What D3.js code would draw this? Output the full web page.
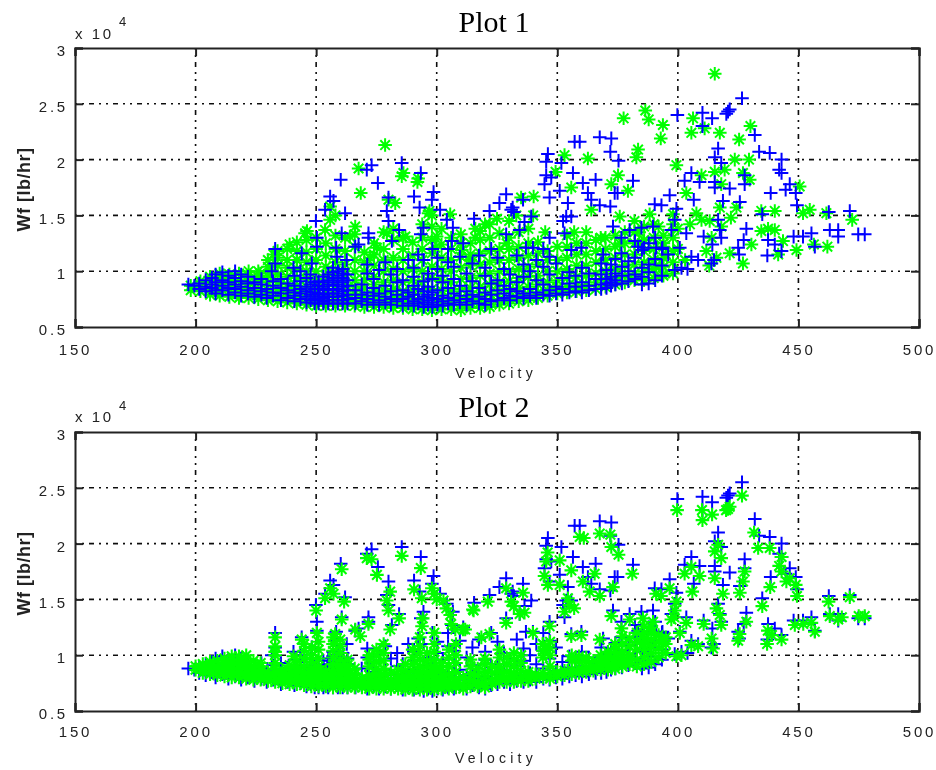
<!DOCTYPE html>
<html><head><meta charset="utf-8">
<script src="https://cdn.jsdelivr.net/npm/d3@7"></script>
<style>html,body{margin:0;padding:0;background:#fff}svg{display:block}</style>
</head><body><svg id="c" width="936" height="770"></svg>
<script>
const xTicks=[150,200,250,300,350,400,450,500];
const yTicks=[0.5,1,1.5,2,2.5,3];
const titles=["Plot 1","Plot 2"];
const xLabel="Velocity", yLabel="Wf [lb/hr]";

// Reference (blue +), isolated points: [velocity, Wf / 1e4]
const bluePeaks=[[197,.88],[233,1.2],[233,1.07],[231.6,1],[244,1.16],[240.6,1.03],[248.2,1.07],[250.3,1.22],[250.3,1.3],[249.9,1.45],[253.7,1.55],[255.8,1.67],[257.2,1.63],[260.2,1.82],[262,1.52],[260.6,1.34],[258.3,1.21],[258.6,1.13],[262.7,1.1],[266.2,1.22],[267.6,1.24],[271.7,1.34],[271.7,1.3],[271,1.91],[273,1.95],[275.6,1.79],[280,1.66],[279.3,1.54],[280,1.45],[281.4,1.27],[284.4,1.37],[285.5,1.97],[293.4,1.88],[290.6,1.67],[292.9,1.57],[294.5,1.39],[293.4,1.33],[298.7,1.71],[298,1.64],[301.4,1.55],[304.2,1.46],[306.7,1.39],[306.3,1.27],[311,1.25],[315.5,1.47],[321.9,1.54],[326,1.61],[328.8,1.69],[330.9,1.55],[331.5,1.57],[332,1.53],[335.8,1.64],[339.2,1.49],[336.4,1.44],[334.4,1.37],[328.8,1.33],[346.1,2.05],[345.4,1.98],[351.7,1.97],[345.4,1.86],[347.5,1.84],[344.7,1.78],[346.8,1.66],[351,1.72],[356.5,1.88],[360.6,1.79],[365.9,1.82],[354.4,1.61],[362.7,1.7],[364.1,1.64],[367.6,1.59],[372,1.58],[373.8,1.7],[375,1.7],[381.4,1.81],[359.3,2.16],[357.2,2.16],[367.6,2.2],[372.4,2.19],[372,2.07],[375.4,1.99],[353.7,1.49],[355.8,1.49],[352.4,1.45],[346.8,1.3],[353,1.34],[373.1,1.4],[376.6,1.3],[380,1.37],[384.9,1.39],[389.7,1.4],[339.9,1.21],[337,1.21],[360,1.21],[355.8,1.19],[369,1.15],[376.6,1.16],[383.5,1.22],[426.6,2.55],[420.8,2.43],[421.5,2.45],[420.1,2.41],[399.8,2.4],[410.2,2.42],[410.2,2.3],[414.2,2.37],[431.9,2.22],[416.7,2.1],[415.3,2.02],[418,1.97],[433.7,2.07],[438.1,2.06],[443,2],[442,1.91],[443,1.88],[446.4,1.78],[444.7,1.73],[448.9,1.7],[449.4,1.59],[427.7,1.86],[427.7,1.78],[421.5,1.74],[425.7,1.62],[418.7,1.63],[415.3,1.8],[415.3,1.75],[405.6,1.88],[402.8,1.81],[409,1.8],[406.6,1.64],[396.6,1.68],[390.4,1.6],[393.2,1.59],[399.4,1.56],[398.7,1.46],[438.5,1.7],[435,1.51],[416.7,1.46],[417.4,1.37],[418,1.3],[428.4,1.38],[427.3,1.28],[425,1.21],[425.4,1.15],[437.4,1.28],[440.2,1.24],[437.1,1.14],[443,1.18],[448,1.31],[451.9,1.31],[455.4,1.34],[456.8,1.22],[462.6,1.53],[471.3,1.54],[463,1.37],[466.5,1.37],[466.5,1.31],[474.8,1.33],[477.5,1.33],[414.3,1.24],[413.9,1.07],[408.4,1.1],[405.6,1.13],[403.5,1.34],[397.3,1.37],[410.7,1.31],[400.8,1.21],[398.7,1.01],[401.5,1.03],[393.6,1.21],[391,1.21],[386,1.21],[404,1.02],[396,1.15],[415,1.1]];
// Reference (blue +), dense band: [velocity, [Wf / 1e4 ...]]
const blueBand=[[199.5,[.87]],[201.5,[.84,.89]],[204.2,[.82,.86,.92]],[206.8,[.85,.88,.94]],[208.3,[.8,.83,.9,.97]],[211.1,[.83,.87,.92,.99]],[213.6,[.79,.85,.9,.96]],[216.4,[.81,.84,.88,.94,1]],[218.9,[.78,.86,.91,.97]],[221.7,[.8,.83,.89,.95]],[224.4,[.77,.85,.9]],[227.3,[.79,.82,.88,.93]],[229.5,[.76,.84]],[232.1,[.78,.81,.87,.91]],[235.4,[.74,.8,.85,.93]],[238.2,[.76,.83,.89]],[241,[.73,.78,.81,.87,.96]],[243.5,[.75,.8,.84,.91,1]],[246,[.72,.77,.82,.86,.94]],[247.7,[.74,.79,.88,.97]],[249.4,[.71,.75,.81,.84,.9]],[251,[.71,.74,.77,.8,.84,.87,.91]],[253,[.71,.73,.76,.79,.83,.86,.9,.95]],[255,[.71,.74,.77,.8,.84,.88,.92,.97]],[257,[.71,.74,.77,.8,.83,.87,.9,.94,.99,1.03]],[259,[.71,.74,.77,.8,.84,.88,.92,.96,1]],[261,[.71,.74,.78,.82,.86,.9,.94,.98,1.02]],[263,[.71,.75,.79,.83,.87,.92,.97]],[266.3,[.71,.76,.83]],[268.9,[.73,.79,.88]],[271.2,[.7,.75,.81,.98,1.06]],[273.8,[.72,.78,.85,.93]],[276.1,[.7,.74,.8,1.01]],[278.7,[.72,.77,.87,1.08]],[281,[.7,.75,.82,.97]],[283.6,[.73,.79,.9,1.02]],[285.9,[.69,.75,.83,.92]],[288.2,[.71,.77,.81,1.1]],[290.5,[.69,.73,.79,.87,.95,1.03]],[292.3,[.71,.75,.84,1.15]],[294.6,[.68,.72,.77,.82,.91,1.1]],[296.4,[.7,.74,.79,.86,.98]],[298.2,[.68,.72,.76,.81,.93,1.2]],[300.3,[.7,.75,.83,1.02,1.12]],[302.5,[.69,.73,.78,.9,.96]],[304.7,[.71,.76,.85,1.08,1.2]],[307.1,[.7,.74,.8,.93,1.04]],[309.6,[.72,.78,.87,1.13]],[312.4,[.7,.75,.82,.98]],[314.8,[.73,.79,.91,1.07]],[317.5,[.71,.77,.85,1.14]],[320.1,[.7,.75,.81,.96,1.03]],[322.6,[.73,.79,.89,1.2]],[325.2,[.74,.83,.92,1.12]],[327.9,[.76,.8,.87,1.02]],[330.4,[.74,.78,.84,.97]],[333.2,[.77,.82,.9,1.14]],[336,[.76,.8,.95,1.06]],[338.7,[.78,.84,1]],[341.3,[.76,.81,.92,1.1]],[344.2,[.79,.88,1.04,1.2]],[346.8,[.78,.83,.97,1.13]],[349.5,[.8,.86,1.07]],[352.1,[.79,.84,.94]],[355,[.81,.89,.99]],[357.6,[.82,.86,.96]],[360.2,[.81,.9,1.03]],[363.1,[.83,.87,.98]],[365.9,[.84,.93]],[368.2,[.84,.88,.97,1.07]],[370.4,[.85,.89,.93,1.01]],[372.3,[.87,.9,.95,1.06]],[374.1,[.88,.92,.98,1.11]],[376.8,[.89,.96,1.04]],[379.5,[.91,1,1.09]],[382.2,[.93,.97,1.12,1.27]],[385.1,[.88,.95,1.03,1.19]],[387.9,[.89,.99,1.06,1.25]],[390.6,[.92,1.11,1.3]],[393.4,[.96,1.05,1.2]]];

// Plot 1 prediction (green *), isolated points
const green1Peaks=[[278.6,2.13],[267.6,1.92],[268.5,1.7],[286.2,1.88],[285.5,1.85],[292,1.8],[292.3,1.83],[280,1.64],[282.8,1.61],[255.8,1.58],[296.6,1.52],[298,1.5],[297,1.54],[305.6,1.51],[255.8,1.46],[253.7,1.37],[245.4,1.34],[246.2,1.36],[266.2,1.4],[264,1.31],[239,1.24],[232.3,1.15],[230.9,1.01],[242,1.1],[226.8,.98],[279.3,1.34],[287,1.31],[275.2,1.21],[272.4,1.12],[300,1.31],[299.4,1.21],[316,1.3],[310.4,1.19],[313.9,1.1],[415.3,2.77],[377.5,2.37],[386.5,2.44],[387.9,2.36],[393.8,2.31],[392.9,2.19],[406.3,2.37],[405.6,2.24],[411.1,2.28],[417.4,2.24],[430.1,2.3],[425.4,2.18],[353,2.04],[362.7,2.01],[383.5,2.09],[382.8,2.02],[399.4,1.95],[349.3,1.89],[375.2,1.86],[372.4,1.78],[355.8,1.75],[340.2,1.67],[335,1.66],[379.3,1.72],[409.8,1.86],[415.3,1.89],[423.6,2],[429.5,2],[427,1.88],[429.8,1.82],[419.4,1.91],[418,1.78],[403.5,1.7],[450.5,1.76],[434.6,1.54],[440.2,1.54],[451.9,1.52],[454.7,1.55],[461.6,1.52],[472.3,1.46],[417.4,1.57],[424.3,1.57],[407.7,1.52],[409.8,1.46],[398,1.51],[388.3,1.51],[375.9,1.49],[364.1,1.55],[434.6,1.36],[437.4,1.38],[440.2,1.37],[430.5,1.24],[421.5,1.16],[427,1.07],[441.6,1.15],[443.6,1.27],[449.2,1.19],[456.4,1.24],[462,1.22],[413.2,1.45],[411.8,1.18],[393.8,.97],[391,1.04],[340,1.5],[333,1.5],[325,1.47],[320,1.42],[310,1.33],[316,1.38],[329,1.25],[345,1.35],[357,1.35],[362,1.35],[368,1.3],[376,1.25],[384,1.35],[392,1.4],[400,1.38],[405,1.42],[418,1.4],[422,1.48],[414,1.3],[394,1.25],[400,1.2],[385,1.25],[395,1.15],[403,1.1],[413,1.05],[416,1.12]];
// Plot 1 prediction (green *), dense band
const green1Band=[[198,[.83,.87]],[202,[.82,.86,.91]],[206,[.79,.84,.9,.95]],[210,[.78,.83,.88,.93,.98]],[214,[.77,.82,.87,.92,.97]],[218,[.76,.81,.86,.92,.98]],[222,[.76,.8,.85,.9,.96,1]],[226,[.75,.79,.84,.9,.95,1]],[230,[.74,.78,.83,.9,.96,1.04,1.1]],[234,[.73,.78,.84,.9,.97,1.05,1.12,1.18]],[238,[.72,.77,.82,.88,.95,1.03,1.1,1.2]],[242,[.71,.76,.81,.87,.94,1.02,1.1,1.18,1.26]],[246,[.7,.75,.8,.86,.93,1,1.08,1.17,1.28]],[250,[.69,.74,.8,.86,.93,1,1.1,1.2,1.3]],[254,[.69,.74,.8,.88,.96,1.04,1.14,1.25]],[258,[.69,.73,.78,.84,.9,.98,1.08,1.2,1.32,1.5]],[262,[.69,.74,.8,.88,.97,1.06,1.18,1.3]],[266,[.69,.74,.8,.86,.92,1,1.1,1.22,1.33]],[270,[.68,.73,.78,.85,.92,1,1.08,1.17]],[274,[.68,.72,.77,.82,.88,.95,1.05,1.15,1.25]],[278,[.68,.72,.77,.83,.9,1,1.1,1.2,1.35]],[282,[.67,.72,.77,.84,.92,1.02,1.12,1.28,1.38]],[286,[.67,.71,.76,.82,.9,1,1.1,1.2,1.3]],[290,[.66,.7,.76,.83,.92,1.02,1.14,1.26]],[294,[.66,.7,.75,.82,.9,1,1.1,1.2,1.3,1.42]],[298,[.65,.7,.76,.84,.94,1.04,1.16,1.28,1.4]],[302,[.66,.7,.76,.83,.92,1.02,1.12,1.24,1.38]],[306,[.66,.7,.75,.82,.9,1,1.1,1.2,1.3]],[310,[.65,.7,.76,.84,.93,1.03,1.13,1.25]],[314,[.67,.72,.78,.85,.94,1.05,1.15,1.25]],[318,[.67,.72,.78,.86,.96,1.06,1.16,1.28,1.36]],[322,[.68,.73,.8,.88,.98,1.08,1.18,1.3,1.42]],[326,[.7,.75,.82,.9,1,1.1,1.2,1.34]],[330,[.71,.76,.83,.91,1,1.1,1.2,1.3,1.45]],[334,[.73,.78,.85,.94,1.02,1.12,1.22,1.35]],[338,[.74,.79,.86,.95,1.04,1.14,1.25,1.38]],[342,[.76,.81,.88,.96,1.06,1.16,1.26]],[346,[.78,.83,.9,1,1.1,1.18]],[350,[.8,.85,.92,1,1.1,1.22]],[354,[.81,.86,.94,1.02,1.12,1.22,1.32]],[358,[.82,.87,.95,1.05,1.15,1.25]],[362,[.83,.88,.96,1.05,1.15,1.25]],[366,[.84,.9,.98,1.08,1.18,1.28]],[370,[.86,.92,1,1.1,1.2,1.3]],[374,[.88,.94,1.02,1.12,1.22,1.32]],[378,[.9,.96,1.05,1.15,1.25,1.35]],[382,[.92,.98,1.06,1.15,1.25,1.35,1.45]],[386,[.92,1,1.08,1.18,1.28,1.4]],[390,[.94,1.02,1.1,1.2,1.3,1.42]],[394,[.96,1.04,1.12,1.22,1.32]],[398,[.98,1.08,1.18,1.3,1.42]]];

// Plot 2 prediction (green *), isolated points
const green2Peaks=[[426.6,2.43],[420.8,2.31],[420,2.3],[421.5,2.33],[399.7,2.3],[410,2.3],[410.2,2.21],[414.2,2.26],[431.6,2.1],[433.3,1.96],[438.1,1.96],[416.7,1.99],[415.3,1.93],[418,1.87],[443,1.88],[442,1.8],[443,1.75],[446.4,1.69],[445,1.66],[448.9,1.63],[449.4,1.53],[427.7,1.75],[427,1.66],[425.7,1.56],[418.7,1.55],[415.3,1.69],[405.6,1.79],[402.8,1.73],[409,1.71],[406,1.57],[396.6,1.6],[391,1.55],[393,1.53],[399.4,1.48],[398.7,1.4],[398.5,1.34],[438.3,1.61],[435,1.44],[417.4,1.36],[418,1.27],[416,1.42],[428.4,1.3],[425.6,1.19],[425,1.13],[437.3,1.22],[439,1.18],[437,1.1],[443,1.14],[448.5,1.27],[452,1.28],[455.4,1.29],[456.8,1.21],[462.5,1.48],[471.3,1.52],[463,1.35],[466.5,1.32],[468,1.34],[475,1.35],[477.5,1.35],[414.6,1.06],[414,1.15],[408.4,1.08],[405.6,1.09],[403.5,1.29],[397.3,1.32],[410.7,1.28],[400.8,1.2],[399.4,.99],[401.5,1],[393.8,1.12],[386.2,1.15],[346,1.92],[345.4,1.84],[351,1.85],[344.7,1.71],[346.1,1.63],[351,1.63],[355.8,1.76],[359.3,2.06],[361,2.05],[367.6,2.09],[372,2.08],[372.4,1.97],[375.4,1.9],[360.6,1.66],[365.5,1.73],[363.4,1.57],[367.6,1.53],[373.1,1.61],[381.1,1.73],[354.4,1.51],[355,1.45],[357,1.42],[353,1.39],[346.8,1.26],[372.4,1.35],[376.6,1.24],[380,1.32],[385.5,1.33],[389.7,1.3],[339.9,1.2],[360,1.18],[355.8,1.17],[367.6,1.14],[344,1.1],[345,1.05],[315,1.41],[321.2,1.48],[328.8,1.6],[330.9,1.48],[332,1.44],[335.8,1.56],[336.4,1.38],[334.4,1.37],[328.8,1.29],[321.9,1.19],[318.5,1.16],[310.9,1.23],[233,1.16],[233,1.03],[244,1.14],[240.6,.99],[248.2,1.07],[250.3,1.2],[250,1.4],[253.7,1.51],[255.8,1.6],[257.2,1.55],[260.6,1.77],[261.6,1.48],[260.6,1.32],[257.9,1.19],[266.2,1.23],[268.3,1.17],[271.7,1.28],[271,1.87],[273,1.86],[275.2,1.72],[280.7,1.57],[279.3,1.49],[280,1.4],[280.7,1.23],[284.4,1.33],[285.5,1.89],[293.4,1.78],[290.6,1.59],[293.8,1.51],[294.2,1.33],[293.9,1.26],[298,1.6],[299,1.55],[300,1.5],[302.8,1.49],[304,1.42],[305.6,1.36],[307.7,1.23],[306,1.28],[311.8,1.23],[315.3,1.4]];
// Plot 2 prediction (green *), dense band
const green2Band=[[200,[.87,.9]],[203,[.84,.88,.92]],[206,[.83,.87,.91,.94]],[209,[.82,.86,.9,.95]],[212,[.81,.85,.89,.93,.97]],[215,[.8,.84,.88,.92,.96,.99]],[218,[.8,.84,.88,.92,.96,.99]],[221,[.79,.83,.87,.91,.95,1]],[224,[.78,.82,.86,.9,.95]],[227,[.78,.82,.86,.9,.93]],[230,[.77,.81,.85]],[233,[.76,.8,.84,.88,.93,1,1.08]],[236,[.75,.79,.83,.87]],[239,[.74,.78,.82,.86,.91]],[242,[.74,.78,.82,.86,.9,.95]],[245,[.73,.77,.81,.85,.9,.97,1.04,1.1]],[248,[.72,.76,.8,.84,.88,.94,1]],[251,[.72,.75,.78,.82,.86,.9,.97,1.05,1.12]],[254,[.72,.75,.78,.82,.86]],[257,[.71,.75,.79,.83,.87,.92,.98,1.04,1.1,1.16]],[260,[.71,.75,.79,.83,.87,.91,.96,1.02,1.08,1.14]],[263,[.71,.75,.79,.83,.87,.91,.96]],[266,[.71,.75,.79,.83,.88]],[269,[.71,.75,.79]],[272,[.7,.74,.78,.82,.9,.96,1]],[275,[.7,.74,.78,.83,.88,.94,1,1.05]],[278,[.7,.74,.78,.83,.88,.95,1.02,1.1]],[281,[.7,.74,.78,.84]],[284,[.7,.74,.78,.82,.87]],[287,[.69,.73,.77,.81,.86,.92]],[290,[.69,.73,.77,.81,.86,.92,.98,1.05]],[293,[.69,.73,.77,.81,.85,.9,.96,1.02,1.08,1.16]],[296,[.69,.73,.77,.81,.85,.9,.95,1.02]],[299,[.69,.73,.77,.81,.85,.9,.96,1.03,1.1,1.2]],[302,[.7,.74,.78,.82,.87,.93]],[305,[.7,.74,.78,.83,.9,.98,1.05]],[308,[.71,.75,.79,.85,.93,1,1.1]],[311,[.7,.74,.8]],[314,[.72,.77,.83,.9,.96]],[317,[.72,.76,.82,.88]],[320,[.71,.75,.8,.85,.92,.97]],[323,[.74,.78,.84,.9]],[326,[.76,.8,.85,.9,.98,1.05]],[329,[.76,.8,.85,.92,.98]],[332,[.76,.8,.84,.9,.96,1.02]],[335,[.77,.81,.86,.93,1]],[338,[.77,.81,.85]],[341,[.79,.83]],[344,[.8,.84,.98,1.04,1.1]],[347,[.79,.84,.9,1,1.06,1.12]],[350,[.81,.85]],[353,[.82,.86]],[356,[.83,.87,.95,1]],[359,[.84,.88,.94,.99]],[362,[.85,.89,.94,.98]],[365,[.86,.9,.95]],[368,[.87,.91,.95,1]],[371,[.87,.91,.95,.99,1.03]],[374,[.88,.92,.96,1,1.05,1.1]],[377,[.9,.94,.98,1.03,1.1,1.17]],[380,[.92,.96,1,1.08,1.15]],[383,[.9,.96,1.05,1.12,1.2]],[386,[.92,.98,1.05,1.1,1.15,1.2,1.26]],[389,[.94,1.02,1.08,1.14,1.2,1.25]],[392,[.98,1.06,1.12,1.18]],[395,[1.02,1.1,1.16]]];

const expand=(peaks,band)=>band.flatMap(([v,ws])=>ws.map(w=>[v,w])).concat(peaks);
const blue=expand(bluePeaks,blueBand);
const green1=expand(green1Peaks,green1Band);
const green2=expand(green2Peaks,green2Band);

const svg=d3.select("#c");
const defs=svg.append("defs");
defs.append("filter").attr("id","soft").attr("x","-2%").attr("y","-2%").attr("width","104%").attr("height","104%")
  .append("feGaussianBlur").attr("stdDeviation",0.5);
const root=svg.append("g").attr("filter","url(#soft)");

const plusType={draw(c,s){const r=Math.sqrt(s);c.moveTo(-r,0);c.lineTo(r,0);c.moveTo(0,-r);c.lineTo(0,r);}};
const starType={draw(c,s){const r=Math.sqrt(s),k=r*Math.SQRT1_2;c.moveTo(-r,0);c.lineTo(r,0);c.moveTo(0,-r);c.lineTo(0,r);c.moveTo(-k,-k);c.lineTo(k,k);c.moveTo(-k,k);c.lineTo(k,-k);}};
const plusPath=d3.symbol().type(plusType).size(46)();
const starPath=d3.symbol().type(starType).size(46)();

const layouts=[{top:48,bottom:327,titleY:31.5,multY:38.5,expY:26,xTickY:354.5,xLabelY:378},
               {top:432,bottom:711,titleY:417,multY:422,expY:410,xTickY:736.5,xLabelY:763}];
const x=d3.scaleLinear().domain([150,500]).range([75,919]);

function marks(g,data,path,color,sw,xs,ys){
  g.append("g").selectAll("path").data(data).join("path")
    .attr("d",path).attr("transform",d=>`translate(${xs(d[0])},${ys(d[1])})`)
    .attr("fill","none").attr("stroke",color).attr("stroke-width",sw);
}

layouts.forEach((L,i)=>{
  const y=d3.scaleLinear().domain([0.5,3]).range([L.bottom,L.top]);
  const g=root.append("g");
  g.append("text").text(titles[i]).attr("x",494).attr("y",L.titleY).attr("text-anchor","middle")
    .attr("font-family","Liberation Serif").attr("font-size",30).attr("fill","#000");
  const dash="2 5 2 5 5 5";
  g.append("g").selectAll("line").data(xTicks.slice(1,-1)).join("line")
    .attr("x1",d=>x(d)).attr("x2",d=>x(d)).attr("y1",L.top).attr("y2",L.bottom)
    .attr("stroke","#111").attr("stroke-width",1.6).attr("stroke-dasharray",dash);
  g.append("g").selectAll("line").data(yTicks.slice(1,-1)).join("line")
    .attr("y1",d=>y(d)).attr("y2",d=>y(d)).attr("x1",x.range()[0]).attr("x2",x.range()[1])
    .attr("stroke","#111").attr("stroke-width",1.6).attr("stroke-dasharray",dash);
  if(i===0){
    marks(g,green1,starPath,"#00ff00",2,x,y);
    marks(g,blue,plusPath,"#0000ff",2,x,y);
  }else{
    marks(g,blue,plusPath,"#0000ff",2,x,y);
    marks(g,green2,starPath,"#00ff00",2.1,x,y);
  }
  const ax=g.append("g").attr("transform",`translate(0,${L.bottom})`)
    .call(d3.axisBottom(x).tickValues(xTicks).tickSize(-8).tickPadding(0).tickFormat(d3.format("d")));
  const ay=g.append("g").attr("transform",`translate(${x.range()[0]},0)`)
    .call(d3.axisLeft(y).tickValues(yTicks).tickSize(-8).tickPadding(0).tickFormat(d=>String(d)));
  g.append("g").attr("transform",`translate(0,${L.top})`)
    .call(d3.axisTop(x).tickValues(xTicks).tickSize(-8).tickFormat(""));
  g.append("g").attr("transform",`translate(${x.range()[1]},0)`)
    .call(d3.axisRight(y).tickValues(yTicks).tickSize(-8).tickFormat(""));
  g.selectAll(".domain").attr("stroke","#222").attr("stroke-width",2);
  g.selectAll(".tick line").attr("stroke","#222").attr("stroke-width",2);
  const fs=s=>s.attr("font-family","Liberation Sans").attr("font-size",15).attr("letter-spacing","2.8px").attr("fill","#222").attr("stroke","none");
  ax.selectAll("text").call(fs).attr("text-anchor","middle").attr("dy",0).attr("y",L.xTickY-L.bottom);
  ay.selectAll("text").call(fs).attr("text-anchor","end").attr("dy","0.35em").attr("x",-7).attr("transform","translate(0,2.5)");
  g.append("text").text("x 10").call(fs).attr("x",75).attr("y",L.multY).attr("letter-spacing","2.6px");
  g.append("text").text("4").call(fs).attr("x",119).attr("y",L.expY).attr("font-size",13);
  g.append("text").text(xLabel).call(fs).attr("x",496).attr("y",L.xLabelY).attr("text-anchor","middle").attr("letter-spacing","4.2px").attr("font-size",14);
  g.append("text").text(yLabel).attr("transform",`translate(30,${(L.top+L.bottom)/2+2}) rotate(-90)`)
    .attr("text-anchor","middle").attr("font-family","Liberation Sans").attr("font-size",18).attr("font-weight","bold").attr("fill","#222").attr("letter-spacing","0.5px");
});
</script></body></html>
